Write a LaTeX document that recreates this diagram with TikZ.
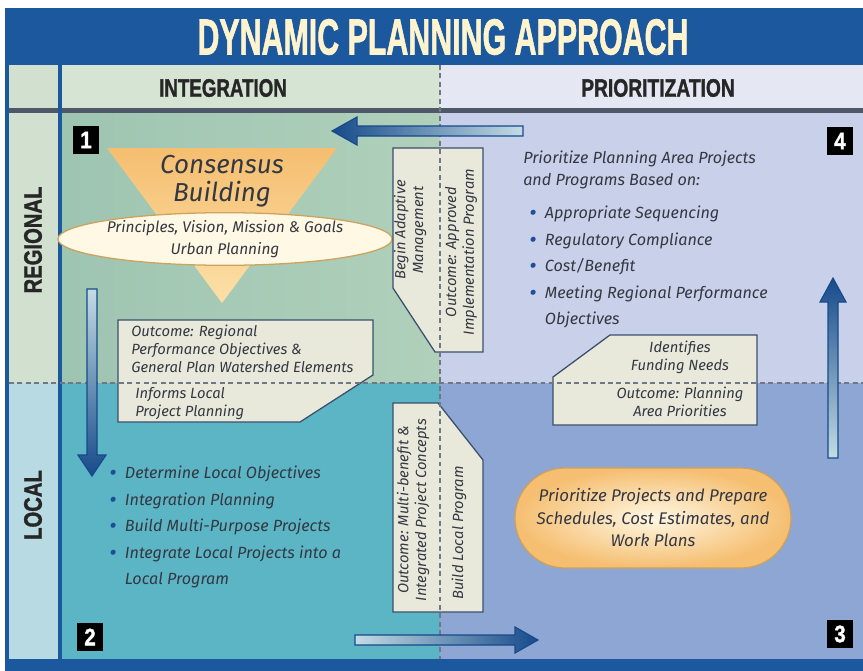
\documentclass[tikz,border=0pt]{standalone}
\usepackage{fontspec}
\setmainfont{Fira Sans}
\newfontfamily\headfont[BoldFeatures={FakeBold=1.6}]{Liberation Sans}
\usepackage{graphicx}
\usepackage{tikz}
\usetikzlibrary{shapes, calc, positioning}

\definecolor{bandblue}{RGB}{28, 88, 158}
\definecolor{titlecream}{RGB}{255, 244, 205}
\definecolor{headgreen}{RGB}{214, 228, 212}
\definecolor{headlav}{RGB}{229, 232, 243}
\definecolor{regcell}{RGB}{210, 224, 208}
\definecolor{loccell}{RGB}{184, 218, 226}
\definecolor{quadone}{RGB}{158, 197, 178}
\definecolor{quadonelight}{RGB}{176, 208, 186}
\definecolor{quadtwo}{RGB}{92, 181, 197}
\definecolor{quadthree}{RGB}{141, 166, 211}
\definecolor{quadfour}{RGB}{201, 209, 234}
\definecolor{ruledark}{RGB}{78, 88, 104}
\definecolor{divgray}{RGB}{112, 120, 136}
\definecolor{boxfill}{RGB}{233, 233, 219}
\definecolor{boxedge}{RGB}{58, 78, 108}
\definecolor{textgray}{RGB}{52, 56, 66}
\definecolor{bulletblue}{RGB}{30, 78, 150}
\definecolor{arrowdark}{RGB}{22, 74, 138}
\definecolor{arrowlight}{RGB}{196, 220, 228}
\definecolor{orangetop}{RGB}{245, 190, 112}
\definecolor{orangebot}{RGB}{252, 224, 168}
\definecolor{creamfill}{RGB}{255, 248, 228}
\definecolor{tanedge}{RGB}{204, 162, 92}

\newcommand{\bul}{\raisebox{-0.22ex}{\textcolor{bulletblue}{\scalebox{1.4}{\textbullet}}}\hspace{6pt}}

\tikzset{
  colhead/.style={font=\headfont\bfseries\fontsize{18}{18}\selectfont, text=black!85, inner sep=0pt},
  numbox/.style={fill=black, text=white, font=\headfont\bfseries\fontsize{17}{17}\selectfont,
    minimum width=18.5pt, minimum height=20.5pt, inner sep=0pt},
  bodytext/.style={font=\itshape\fontsize{11.5}{15.5}\selectfont, text=textgray, align=left, inner sep=0pt},
  bullets/.style={font=\itshape\fontsize{11.5}{18.8}\selectfont, text=textgray, align=left, inner sep=0pt},
  boxtext/.style={font=\itshape\fontsize{10.5}{12.6}\selectfont, text=textgray, inner sep=0pt},
  outbox/.style={fill=boxfill, draw=boxedge, line width=0.9pt},
  divider/.style={draw=divgray, line width=1.2pt, dash pattern=on 3.5pt off 2.5pt},
  flowarrow/.style={draw=arrowdark, line width=0.8pt}
}

\begin{document}
\begin{tikzpicture}[x=0.025cm, y=-0.025cm]
  \useasboundingbox[fill=white] (0,0) rectangle (863,671);

  % Frame and title band
  \fill[bandblue] (5,8) rectangle (863,671);
  \node[font=\headfont\bfseries\fontsize{36}{36}\selectfont, text=titlecream, inner sep=0pt] (title) at (443,37)
    {\scalebox{0.6}[1]{DYNAMIC PLANNING APPROACH}};

  % Column headers
  \fill[regcell] (9,65) rectangle (58,108);
  \fill[headgreen] (62,65) rectangle (440,108);
  \fill[headlav] (440,65) rectangle (863,108);
  \fill[ruledark] (9,108) rectangle (863,113);
  \node[colhead] (integration) at (223,88) {\scalebox{0.74}[1]{INTEGRATION}};
  \node[colhead] (prioritization) at (658,88) {\scalebox{0.76}[1]{PRIORITIZATION}};

  % Row labels
  \fill[regcell] (9,113) rectangle (58,383);
  \fill[loccell] (9,383) rectangle (58,659);
  \node[colhead, rotate=90] (regional) at (33,240) {\scalebox{0.8}[1]{REGIONAL}};
  \node[colhead, rotate=90] (local) at (33,505) {\scalebox{0.8}[1]{LOCAL}};
  \fill[bandblue] (58,65) rectangle (62,659);

  % Quadrants
  \shade[left color=quadone, right color=quadonelight] (62,113) rectangle (440,383);
  \fill[quadfour] (440,113) rectangle (863,383);
  \fill[quadtwo] (62,383) rectangle (440,659);
  \fill[quadthree] (440,383) rectangle (863,659);

  % Quadrant 1: consensus building
  \shade[top color=orangetop, bottom color=orangebot] (107,148) -- (337,148) -- (222,303) -- cycle;
  \node[font=\itshape\fontsize{18.5}{20}\selectfont, text=textgray, align=center, inner sep=0pt] (consensus) at (222,181)
    {Consensus\\Building};
  \node[ellipse, fill=creamfill, draw=tanedge, line width=0.9pt, minimum width=7cm, minimum height=1.3cm,
    inner sep=0pt, align=center, font=\itshape\fontsize{11}{15.5}\selectfont, text=textgray] (principles) at (225,239)
    {Principles, Vision, Mission \& Goals\\Urban Planning};

  % Outcome box between quadrants 1 and 2
  \filldraw[outbox] (118,320) -- (373,320) -- (373,375) -- (300,422) -- (118,422) -- cycle;
  \node[boxtext, anchor=north west, align=left] (regoutcome) at (131,325)
    {Outcome: Regional\\Performance Objectives \&\\General Plan Watershed Elements};
  \node[boxtext, anchor=north west, align=left] (informs) at (135,387)
    {Informs Local\\Project Planning};

  % Outcome box between quadrants 4 and 1
  \filldraw[outbox] (393,148) -- (483,148) -- (483,352) -- (435,352) -- (393,288) -- cycle;
  \node[boxtext, rotate=90, align=center] (adaptive) at (410,230) {Begin Adaptive\\Management};
  \node[boxtext, rotate=90, align=center] (approved) at (461,252) {Outcome: Approved\\Implementation Program};

  % Quadrant 4: prioritization criteria
  \node[bodytext, anchor=north west] (criteria) at (523,151)
    {Prioritize Planning Area Projects\\and Programs Based on:};
  \node[bullets, anchor=north west] (criterialist) at (529,206)
    {\bul Appropriate Sequencing\\
     \bul Regulatory Compliance\\
     \bul Cost/Benefit\\
     \bul Meeting Regional Performance\\
     \phantom{\bul}Objectives};

  % Outcome box between quadrants 3 and 4
  \filldraw[outbox] (610,335) -- (757,335) -- (757,425) -- (553,425) -- (553,377) -- cycle;
  \node[boxtext, align=center] (funding) at (680,357) {Identifies\\Funding Needs};
  \node[boxtext, align=center] (areaprio) at (680,402) {Outcome: Planning\\Area Priorities};

  % Quadrant 2: local integration
  \node[bullets, anchor=north west] (locallist) at (109,466)
    {\bul Determine Local Objectives\\
     \bul Integration Planning\\
     \bul Build Multi-Purpose Projects\\
     \bul Integrate Local Projects into a\\
     \phantom{\bul}Local Program};

  % Outcome box between quadrants 2 and 3
  \filldraw[outbox] (393,403) -- (438,403) -- (483,460) -- (483,612) -- (393,612) -- cycle;
  \node[boxtext, rotate=90, align=center] (multibenefit) at (413,510)
    {Outcome: Multi-benefit \&\\Integrated Project Concepts};
  \node[boxtext, rotate=90] (buildlocal) at (459,533) {Build Local Program};

  % Quadrant 3: work plans
  \node[rounded rectangle, inner color=creamfill, outer color=orangetop, draw=tanedge, line width=0.9pt,
    minimum width=6.9cm, minimum height=2.5cm, inner sep=0pt, align=center,
    font=\itshape\fontsize{12}{16}\selectfont, text=textgray] (workplans) at (653,518)
    {Prioritize Projects and Prepare\\Schedules, Cost Estimates, and\\Work Plans};

  % Dividers between quadrants
  \draw[divider] (9,383) -- (863,383);
  \draw[divider] (440,65) -- (440,659);

  % Step numbers
  \node[numbox] (one) at (86,140) {\scalebox{0.85}[1]{1}};
  \node[numbox] (two) at (90,637) {\scalebox{0.85}[1]{2}};
  \node[numbox] (three) at (840,634) {\scalebox{0.85}[1]{3}};
  \node[numbox] (four) at (840,141) {\scalebox{0.85}[1]{4}};

  % Flow arrows 4 -> 1 -> 2 -> 3 -> 4
  \coordinate (a41t) at (523,131);
  \coordinate (a41h) at (332,131);
  \shade[flowarrow, left color=arrowdark, right color=arrowlight]
    ($(a41t)+(0,-5)$) -- ($(a41h)+(25,-5)$) -- ($(a41h)+(25,-14)$) -- (a41h)
    -- ($(a41h)+(25,14)$) -- ($(a41h)+(25,5)$) -- ($(a41t)+(0,5)$) -- cycle;

  \coordinate (a12t) at (92,289);
  \coordinate (a12h) at (92,476);
  \shade[flowarrow, top color=arrowlight, bottom color=arrowdark]
    ($(a12t)+(-5,0)$) -- ($(a12h)+(-5,-21)$) -- ($(a12h)+(-14,-21)$) -- (a12h)
    -- ($(a12h)+(14,-21)$) -- ($(a12h)+(5,-21)$) -- ($(a12t)+(5,0)$) -- cycle;

  \coordinate (a23t) at (355,640);
  \coordinate (a23h) at (538,640);
  \shade[flowarrow, left color=arrowlight, right color=arrowdark]
    ($(a23t)+(0,-5)$) -- ($(a23h)+(-23,-5)$) -- ($(a23h)+(-23,-13)$) -- (a23h)
    -- ($(a23h)+(-23,13)$) -- ($(a23h)+(-23,5)$) -- ($(a23t)+(0,5)$) -- cycle;

  \coordinate (a34t) at (833,458);
  \coordinate (a34h) at (833,278);
  \shade[flowarrow, top color=arrowdark, bottom color=arrowlight]
    ($(a34t)+(-5,0)$) -- ($(a34h)+(-5,24)$) -- ($(a34h)+(-13,24)$) -- (a34h)
    -- ($(a34h)+(13,24)$) -- ($(a34h)+(5,24)$) -- ($(a34t)+(5,0)$) -- cycle;
\end{tikzpicture}
\end{document}
